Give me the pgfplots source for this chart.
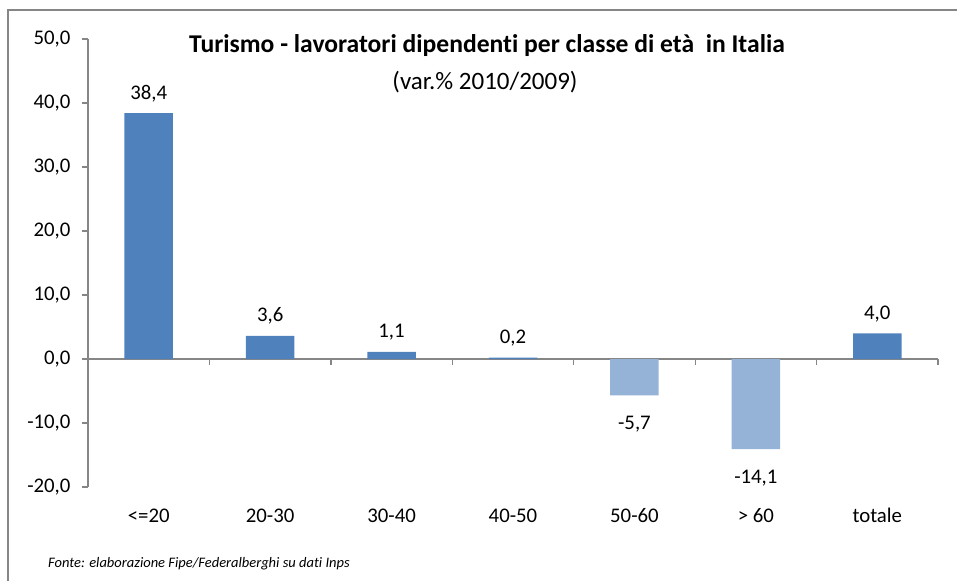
\documentclass[border=0pt]{standalone}
\usepackage{pgfplots}
\pgfplotsset{compat=1.18}
\usepackage{fontspec}
\setmainfont{Carlito}[Ligatures=NoCommon]
\definecolor{barA}{HTML}{4F81BD}
\definecolor{barB}{HTML}{95B3D7}
\definecolor{axgray}{HTML}{868686}
\pgfkeys{/pgf/number format/.cd, fixed, fixed zerofill, precision=1, use comma, assume math mode=true}
\begin{document}
\begin{tikzpicture}[x=1pt,y=1pt]
\path[use as bounding box] (0,0) rectangle (957,581);
\draw[axgray, line width=1.3pt] (8,0) -- (8,571) -- (957,571);
\begin{axis}[
  at={(88pt,94pt)}, anchor=south west,
  scale only axis, width=850pt, height=448pt,
  xmin=-0.5, xmax=6.5, ymin=-20, ymax=50,
  axis x line=middle, axis y line=left,
  axis line style={-, draw=axgray, line width=1.3pt},
  tick style={draw=axgray, line width=1.3pt},
  tick align=outside, major tick length=6pt,
  font=\fontsize{20.8}{24}\selectfont,
  ytick={-20,-10,...,50},
  yticklabel style={xshift=-8pt},
  xtick={0.5,1.5,...,6.5}, xticklabels={},
  extra x ticks={0,1,2,3,4,5,6},
  extra x tick labels={<=20,20-30,30-40,40-50,50-60,> 60,totale},
  extra x tick style={major tick length=0pt, tick label style={anchor=base, yshift=-163pt}},
  clip=false,
]
\addplot[ybar, bar width=48.5pt, bar shift=0pt, fill=barA, draw=none,
  nodes near coords,
  every node near coord/.append style={anchor=south, yshift=8pt, text=black}]
  coordinates {(0,38.4) (1,3.6) (2,1.1) (3,0.2) (6,4.0)};
\addplot[ybar, bar width=48.5pt, bar shift=0pt, fill=barB, draw=none,
  nodes near coords,
  every node near coord/.append style={anchor=north, yshift=-17pt, text=black}]
  coordinates {(4,-5.7) (5,-14.1)};
\end{axis}
\node[font=\fontsize{25.6}{29}\selectfont\bfseries] at (487,535) {Turismo - lavoratori dipendenti per classe di età\ \ in Italia};
\node[font=\fontsize{25}{28}\selectfont] at (485,499) {(var.\% 2010/2009)};
\node[font=\fontsize{14.5}{17}\selectfont\itshape, anchor=west, inner sep=0pt] at (48,17) {Fonte: elaborazione Fipe/Federalberghi su dati Inps};
\end{tikzpicture}
\end{document}
